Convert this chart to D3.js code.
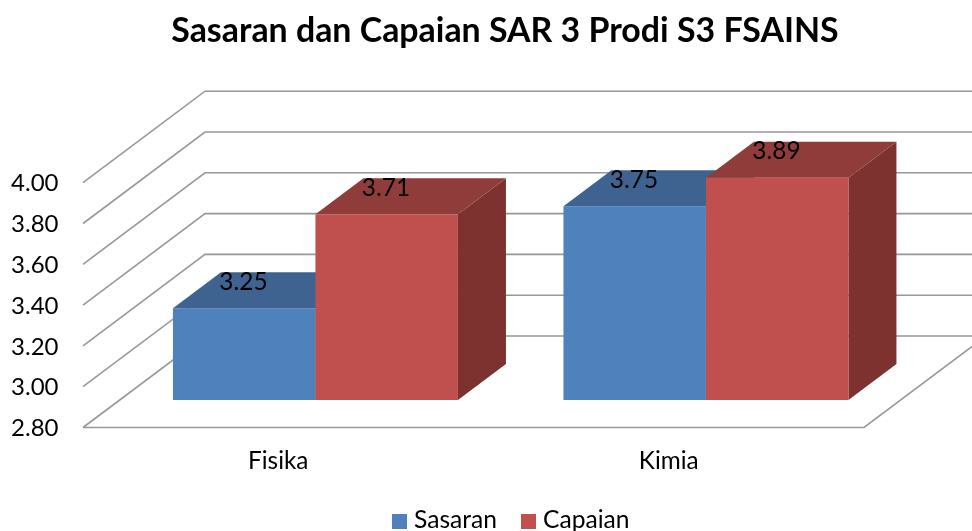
<!DOCTYPE html>
<html><head><meta charset="utf-8">
<script src="https://cdn.jsdelivr.net/npm/d3@7"></script>
<style>html,body{margin:0;padding:0;background:#fff;overflow:hidden}svg{display:block;filter:blur(0.4px)}text{font-family:Lato,"Open Sans",sans-serif;fill:#000}</style>
</head><body><svg id="c" width="972" height="531"></svg>
<script>
const title = "Sasaran dan Capaian SAR 3 Prodi S3 FSAINS";
const categories = ["Fisika", "Kimia"];
const seriesNames = ["Sasaran", "Capaian"];
const sasaran = [3.25, 3.75];
const capaian = [3.71, 3.89];
const tickValues = [2.8, 3.0, 3.2, 3.4, 3.6, 3.8, 4.0];
const seriesColors = ["#4F81BD", "#C0504D"];
const topColors = ["#3E6390", "#8F3C3A"];
const sideColors = ["#36567E", "#7D3230"];
const gridColor = "#989898";

const svg = d3.select("#c");
const left = 83, right = 864, floorY = 427.5, yTop = 182.7;
const wallDx = 122, wallDy = -91.5;
const barOffDx = 37.2, barOffDy = -27.5;
const barDx = 48, barDy = -36;

const y = d3.scaleLinear().domain([2.8, 4.0]).range([floorY, yTop]);
const x0 = d3.scaleBand().domain(categories).range([left, right]);
const x1 = d3.scaleBand().domain(seriesNames).range([0, 285]);
const groupPad = (x0.bandwidth() - x1.range()[1]) / 2;

const grid = svg.append("g").attr("fill", "none").attr("stroke", gridColor).attr("stroke-width", 1.6);
grid.selectAll("path").data(tickValues).join("path")
  .attr("d", v => d3.line()([[left, y(v)], [left + wallDx, y(v) + wallDy], [right + wallDx, y(v) + wallDy]]));
grid.append("path").attr("d", d3.line()([[left, floorY], [right, floorY], [right + wallDx, floorY + wallDy]]));

const prism = (xl, w, yBase, yT, s) => {
  const g = svg.append("g");
  g.append("path").attr("fill", sideColors[s]).attr("d", d3.line()([
    [xl + w, yT], [xl + w + barDx, yT + barDy], [xl + w + barDx, yBase + barDy], [xl + w, yBase]]) + "Z");
  g.append("path").attr("fill", topColors[s]).attr("d", d3.line()([
    [xl, yT], [xl + barDx, yT + barDy], [xl + w + barDx, yT + barDy], [xl + w, yT]]) + "Z");
  g.append("rect").attr("fill", seriesColors[s]).attr("x", xl).attr("y", yT).attr("width", w).attr("height", yBase - yT);
};
const seriesValues = [sasaran, capaian];
const labels = [];
categories.forEach((c, i) => {
  seriesNames.forEach((n, s) => {
    const v = seriesValues[s][i];
    const xl = x0(c) + groupPad + x1(n) + barOffDx;
    const top = y(v) + barOffDy;
    prism(xl, x1.bandwidth(), floorY + barOffDy, top, s);
    labels.push({v, x: xl + 70.5, y: top - 27});
  });
});

svg.append("g").selectAll("text").data(labels).join("text")
  .attr("x", d => d.x).attr("y", d => d.y).attr("dy", "0.35em")
  .attr("text-anchor", "middle").attr("font-size", 24.4)
  .text(d => d.v.toFixed(2));

svg.append("g").selectAll("text").data(tickValues).join("text")
  .attr("x", 58.5).attr("y", v => y(v)).attr("dy", "0.36em")
  .attr("text-anchor", "end").attr("font-size", 24)
  .text(d3.format(".2f"));

svg.append("g").selectAll("text").data(categories).join("text")
  .attr("x", c => x0(c) + x0.bandwidth() / 2).attr("y", 460).attr("dy", "0.35em")
  .attr("text-anchor", "middle").attr("font-size", 24.3)
  .text(c => c);

svg.append("text").attr("x", 505).attr("y", 42).attr("text-anchor", "middle")
  .attr("font-size", 33.9).attr("font-weight", 700).text(title);

const legendX = [392, 521];
seriesNames.forEach((n, s) => {
  svg.append("rect").attr("x", legendX[s]).attr("y", 514).attr("width", 15).attr("height", 15).attr("fill", seriesColors[s]);
  svg.append("text").attr("x", legendX[s] + 22).attr("y", 528).attr("font-size", 24.6).text(n);
});
</script></body></html>
